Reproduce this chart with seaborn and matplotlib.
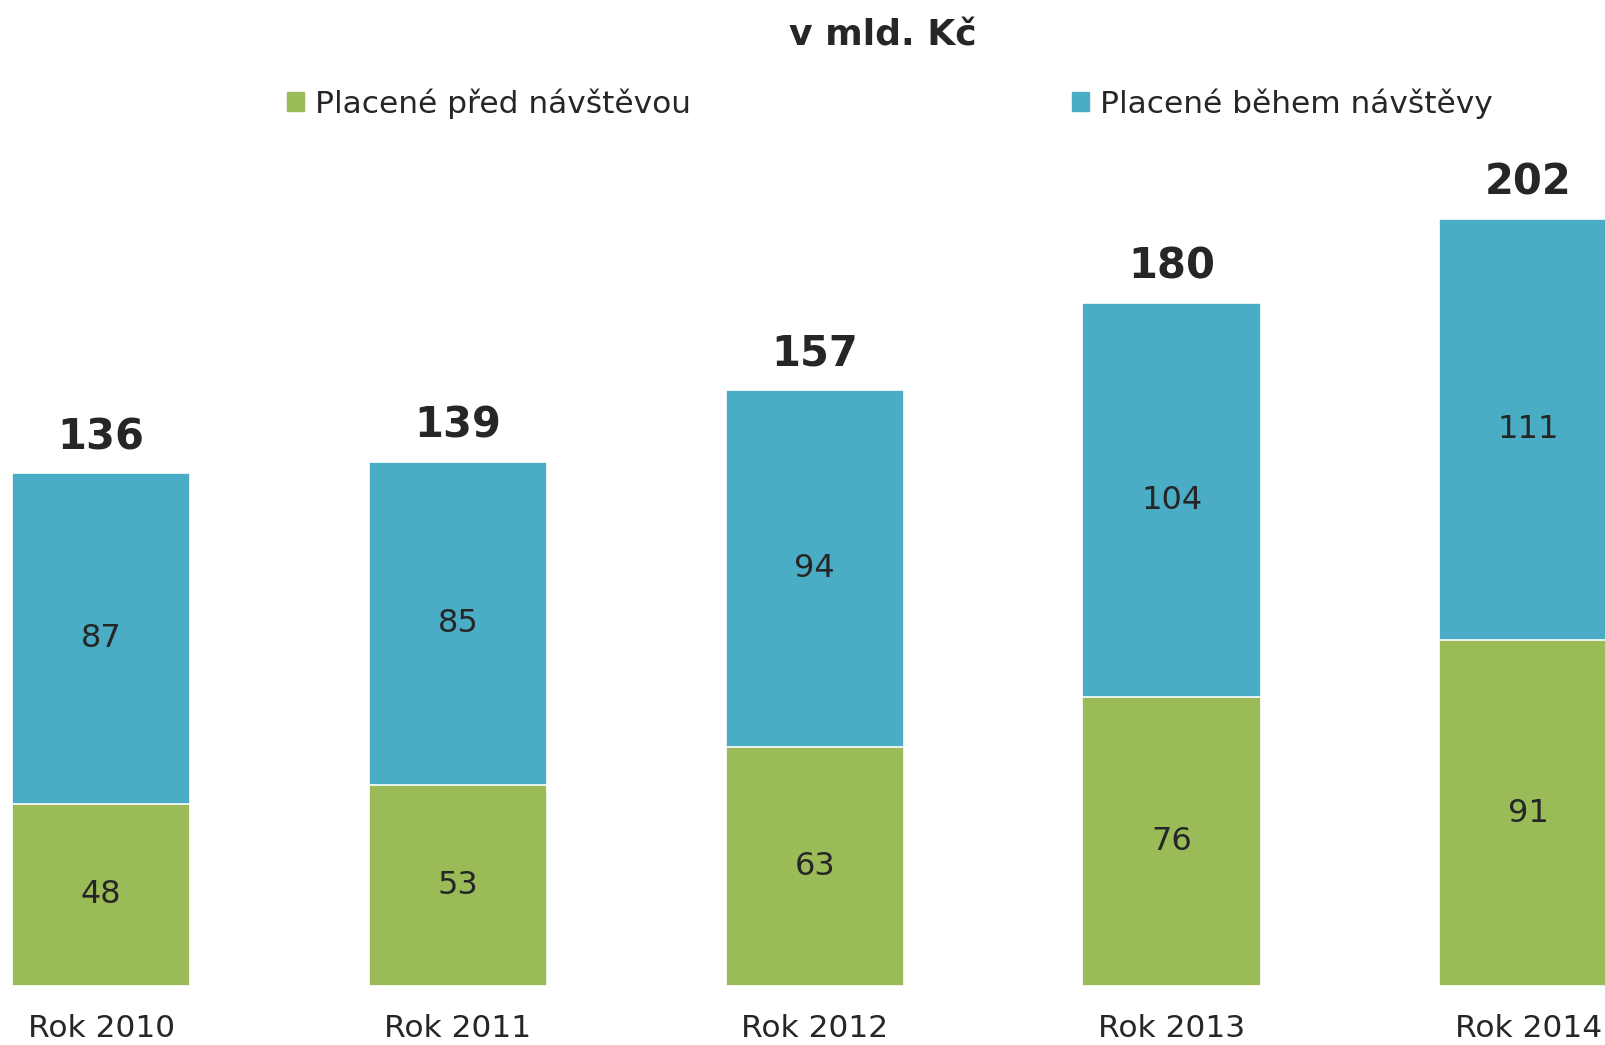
import numpy as np
import pandas as pd
import matplotlib.pyplot as plt
import seaborn as sns
from matplotlib.patches import Patch

sns.set_theme(style="white")
plt.rcParams["font.family"] = ["DejaVu Sans"]

# data
years = ["Rok 2010", "Rok 2011", "Rok 2012", "Rok 2013", "Rok 2014"]
before_visit = [48, 53, 63, 76, 91]
during_visit = [87, 85, 94, 104, 111]
totals = [136, 139, 157, 180, 202]

green = "#9BBB59"
blue = "#4BACC6"
txt = "#262626"

df = pd.DataFrame({"year": years, "before": before_visit, "during": during_visit})
df["stack"] = df["before"] + df["during"]

fig = plt.figure(figsize=(16.06, 10.45), dpi=100)
ax = fig.add_axes([0, 0.0565, 1, 0.9435])

# blue drawn to full stack height, green on top of it at the bottom
sns.barplot(data=df, x="year", y="stack", color=blue, width=0.5,
            edgecolor="white", linewidth=1.2, saturation=1, ax=ax)
sns.barplot(data=df, x="year", y="before", color=green, width=0.5,
            edgecolor="white", linewidth=1.2, saturation=1, ax=ax)

for i, row in df.iterrows():
    ax.text(i, row["before"] / 2, str(row["before"]), ha="center", va="center",
            fontsize=23, color=txt)
    ax.text(i, row["before"] + row["during"] / 2, str(row["during"]),
            ha="center", va="center", fontsize=23, color=txt)
    ax.annotate(str(totals[i]), (i, row["stack"]), xytext=(0, 26),
                textcoords="offset points", ha="center", va="center",
                fontsize=30, fontweight="bold", color=txt)

ax.set_xlim(-0.284, 4.218)
ax.set_ylim(0, 259.7)
ax.set_xlabel("")
ax.set_ylabel("")
ax.set_yticks([])
ax.tick_params(axis="x", length=0, pad=20, labelsize=22.5, labelcolor=txt)
sns.despine(ax=ax, left=True, bottom=True)

fig.text(0.55, 0.966, "v mld. Kč", ha="center", va="center",
         fontsize=26, fontweight="bold", color=txt)

handles = [Patch(color=green, label="Placené před návštěvou"),
           Patch(color=blue, label="Placené během návštěvy")]
fig.legend(handles=handles, ncol=2, loc="center", bbox_to_anchor=(0.554, 0.901),
           frameon=False, fontsize=22.5, handlelength=0.55, handleheight=0.55,
           handletextpad=0.35, columnspacing=12.2, labelcolor=txt)

fig.savefig("out.png", dpi=100)
